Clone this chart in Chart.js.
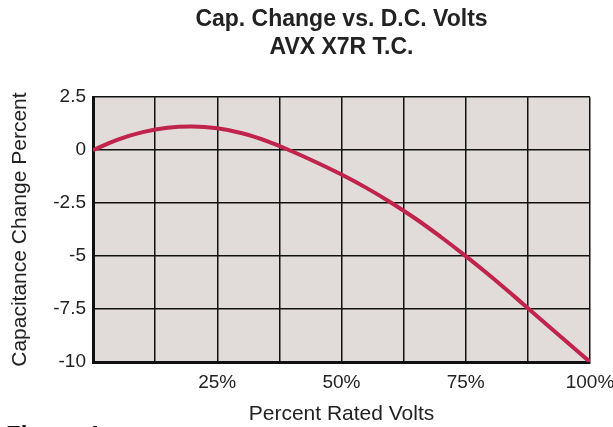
<!DOCTYPE html>
<html>
<head>
<meta charset="utf-8">
<script src="https://cdn.jsdelivr.net/npm/chart.js@4"></script>
<style>
  html, body { margin: 0; padding: 0; background: #fff; }
  #wrap { width: 613px; height: 427px; }
</style>
</head>
<body>
<div id="wrap"><canvas id="capChart" width="613" height="427"></canvas></div>
<script>
// percent of rated volts
var voltPct = [0, 5, 10, 15, 20, 25, 30, 35, 40, 45, 50, 55, 60, 65, 70, 75, 80, 85, 90, 95, 100];
// capacitance change, percent
var capChange = [0, 0.5, 0.85, 1.06, 1.12, 1.03, 0.8, 0.43, -0.05, -0.58, -1.15, -1.78, -2.48, -3.25, -4.1, -5.0, -5.95, -6.95, -7.97, -8.98, -10];
var xLabeled = [25, 50, 75, 100];
var yTicks = [2.5, 0, -2.5, -5, -7.5, -10];

var points = voltPct.map(function (v, i) { return { x: v, y: capChange[i] }; });

var fontFam = '"Liberation Sans", Arial, Helvetica, sans-serif';

var plotBg = {
    id: 'plotBg',
    beforeDraw: function (chart) {
        var a = chart.chartArea, c = chart.ctx;
        c.save();
        c.fillStyle = '#e1dcda';
        c.fillRect(a.left, a.top, a.right - a.left, a.bottom - a.top);
        c.restore();
    },
    afterDraw: function (chart) {
        // caption below the chart, mostly cut off by the page edge
        var c = chart.ctx;
        c.save();
        c.fillStyle = '#111';
        c.font = 'bold 24px ' + fontFam;
        c.textBaseline = 'alphabetic';
        c.fillText('Figure 4', 6, 443);
        c.restore();
    }
};

var ctx = document.getElementById('capChart').getContext('2d');
var capChart = new Chart(ctx, {
    type: 'line',
    data: {
        datasets: [{
            data: points,
            borderColor: '#c0234b',
            borderWidth: 4,
            pointRadius: 0,
            fill: false,
            tension: 0.4
        }]
    },
    options: {
        responsive: false,
        animation: false,
        layout: { padding: { left: 0, right: 23, top: 0, bottom: 0 } },
        plugins: {
            legend: { display: false },
            tooltip: { enabled: false },
            title: {
                display: true,
                fullSize: false,
                text: ['Cap. Change vs. D.C. Volts', 'AVX X7R T.C.'],
                color: '#222',
                font: { family: fontFam, size: 23, weight: 'bold', lineHeight: 1.2 },
                padding: { top: 6, bottom: 36 }
            }
        },
        scales: {
            x: {
                type: 'linear',
                min: 0,
                max: 100,
                afterBuildTicks: function (axis) {
                    var t = [];
                    for (var v = 0; v <= 100; v += 12.5) t.push({ value: v });
                    axis.ticks = t;
                },
                afterFit: function (axis) {
                    axis.height = 65;
                    axis.paddingRight = 0;
                },
                ticks: {
                    autoSkip: false,
                    maxRotation: 0,
                    color: '#222',
                    padding: 9,
                    font: { family: fontFam, size: 19 },
                    callback: function (v) { return xLabeled.indexOf(v) >= 0 ? v + '%' : ''; }
                },
                grid: { color: '#111', lineWidth: 1.5, drawTicks: false },
                border: { color: '#111', width: 3 },
                title: {
                    display: true,
                    text: 'Percent Rated Volts',
                    color: '#222',
                    font: { family: fontFam, size: 21 },
                    padding: { top: 4, bottom: 0 }
                }
            },
            y: {
                min: -10,
                max: 2.5,
                afterBuildTicks: function (axis) {
                    axis.ticks = yTicks.map(function (v) { return { value: v }; });
                },
                afterFit: function (axis) { axis.width = 93; },
                ticks: {
                    color: '#222',
                    padding: 7,
                    font: { family: fontFam, size: 19 },
                    callback: function (v) { return String(v); }
                },
                grid: { color: '#111', lineWidth: 1.5, drawTicks: false },
                border: { color: '#111', width: 3 },
                title: {
                    display: true,
                    text: 'Capacitance Change Percent',
                    color: '#222',
                    font: { family: fontFam, size: 21 },
                    padding: { top: 8, bottom: 4 }
                }
            }
        }
    },
    plugins: [plotBg]
});
</script>
</body>
</html>
